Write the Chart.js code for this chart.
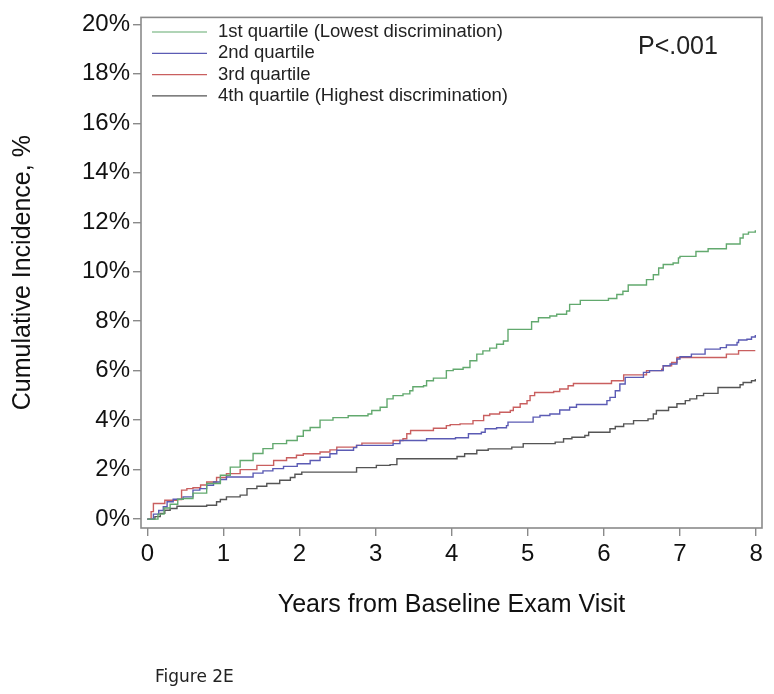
<!DOCTYPE html>
<html>
<head>
<meta charset="utf-8">
<title>Figure 2E</title>
<script src="https://cdn.jsdelivr.net/npm/chart.js@4.4.1/dist/chart.umd.min.js"></script>
<style>
  html, body { margin: 0; padding: 0; background: #fff; }
  #wrap { position: relative; width: 774px; height: 694px; }
  #fig { position: absolute; left: 155px; top: 666px; font: 17px 'DejaVu Sans', Verdana, sans-serif; line-height: 20px; color: #222; }
</style>
</head>
<body>
<div id="wrap">
  <canvas id="kmChart" width="774" height="694"></canvas>
  <div id="fig">Figure 2E</div>
</div>
<script>
// Series labels and colours
var seriesLabels = ['1st quartile (Lowest discrimination)', '2nd quartile', '3rd quartile', '4th quartile (Highest discrimination)'];
var seriesColors = ['#62a96e', '#5b5bb4', '#c95f5f', '#555555'];

// Tick values
var xTicks = [0, 1, 2, 3, 4, 5, 6, 7, 8];
var yTicks = [0, 2, 4, 6, 8, 10, 12, 14, 16, 18, 20];

// 1st quartile: event times (years) and cumulative incidence (%)
var q1Years = [0, 0.14, 0.22, 0.3, 0.4, 0.47, 0.6, 0.78, 0.96, 1.09, 1.22, 1.39, 1.52, 1.65, 1.83, 1.97, 2.05, 2.14, 2.27, 2.44, 2.64, 2.9, 2.95, 3.06, 3.15, 3.23, 3.36, 3.45, 3.49, 3.63, 3.67, 3.76, 3.93, 4.02, 4.15, 4.24, 4.33, 4.41, 4.5, 4.59, 4.68, 4.74, 5.05, 5.14, 5.29, 5.38, 5.51, 5.55, 5.69, 6.06, 6.17, 6.25, 6.32, 6.56, 6.65, 6.72, 6.78, 6.91, 6.98, 7.0, 7.21, 7.37, 7.61, 7.79, 7.83, 7.9, 7.99];
var q1Pct   = [0, 0.2, 0.45, 0.6, 0.8, 0.83, 1.05, 1.44, 1.77, 2.1, 2.37, 2.65, 2.85, 3.05, 3.18, 3.35, 3.58, 3.7, 4.0, 4.1, 4.18, 4.25, 4.39, 4.52, 4.86, 4.99, 5.06, 5.19, 5.35, 5.39, 5.59, 5.7, 6.0, 6.06, 6.13, 6.4, 6.67, 6.8, 6.91, 7.07, 7.2, 7.67, 7.98, 8.14, 8.21, 8.28, 8.41, 8.68, 8.84, 8.92, 9.08, 9.21, 9.46, 9.68, 9.88, 10.15, 10.29, 10.35, 10.56, 10.62, 10.82, 10.93, 11.12, 11.36, 11.52, 11.6, 11.68];

// 2nd quartile
var q2Years = [0, 0.08, 0.15, 0.21, 0.26, 0.34, 0.47, 0.6, 0.69, 0.78, 0.87, 0.96, 1.04, 1.39, 1.52, 1.65, 1.79, 1.97, 2.14, 2.27, 2.4, 2.49, 2.71, 2.75, 3.23, 3.32, 3.67, 4.05, 4.22, 4.39, 4.44, 4.59, 4.72, 4.74, 5.07, 5.16, 5.29, 5.42, 5.55, 5.64, 6.04, 6.08, 6.15, 6.21, 6.28, 6.52, 6.6, 6.78, 6.87, 6.96, 7.0, 7.15, 7.33, 7.53, 7.61, 7.75, 7.77, 7.88, 7.94, 7.99];
var q2Pct   = [0, 0.2, 0.35, 0.5, 0.7, 0.8, 0.9, 1.17, 1.23, 1.37, 1.5, 1.6, 1.7, 1.86, 1.95, 2.04, 2.13, 2.24, 2.37, 2.5, 2.64, 2.78, 2.89, 2.98, 3.05, 3.18, 3.25, 3.29, 3.45, 3.51, 3.65, 3.69, 3.78, 3.92, 4.12, 4.19, 4.25, 4.41, 4.52, 4.63, 4.79, 4.92, 5.19, 5.46, 5.73, 5.93, 6.0, 6.2, 6.27, 6.47, 6.56, 6.67, 6.87, 6.93, 7.04, 7.14, 7.24, 7.27, 7.36, 7.44];

// 3rd quartile
var q3Years = [0, 0.05, 0.08, 0.23, 0.39, 0.45, 0.52, 0.6, 0.7, 0.78, 0.91, 1.04, 1.22, 1.44, 1.66, 1.83, 1.96, 2.05, 2.27, 2.4, 2.49, 2.75, 2.82, 3.23, 3.36, 3.41, 3.46, 3.76, 3.93, 3.98, 4.11, 4.28, 4.42, 4.5, 4.63, 4.77, 4.81, 4.9, 4.99, 5.03, 5.09, 5.34, 5.42, 5.53, 5.6, 6.1, 6.26, 6.56, 6.76, 6.78, 6.89, 6.96, 7.61, 7.77, 7.99];
var q3Pct   = [0, 0.3, 0.63, 0.76, 0.79, 1.17, 1.23, 1.27, 1.38, 1.5, 1.68, 1.84, 2.0, 2.17, 2.37, 2.48, 2.58, 2.64, 2.71, 2.8, 2.91, 2.98, 3.07, 3.18, 3.25, 3.45, 3.58, 3.67, 3.78, 3.82, 3.85, 3.98, 4.19, 4.25, 4.32, 4.39, 4.52, 4.66, 4.79, 4.99, 5.12, 5.16, 5.26, 5.39, 5.48, 5.59, 5.83, 6.0, 6.06, 6.2, 6.33, 6.53, 6.67, 6.81, 6.81];

// 4th quartile
var q4Years = [0, 0.1, 0.17, 0.23, 0.3, 0.39, 0.78, 0.91, 0.96, 1.04, 1.22, 1.31, 1.44, 1.57, 1.74, 1.88, 1.94, 2.03, 2.75, 3.01, 3.19, 3.28, 4.07, 4.17, 4.33, 4.48, 4.79, 4.94, 5.36, 5.47, 5.58, 5.75, 5.8, 6.08, 6.15, 6.26, 6.39, 6.58, 6.65, 6.69, 6.85, 6.96, 7.07, 7.13, 7.22, 7.31, 7.5, 7.79, 7.83, 7.94, 7.99];
var q4Pct   = [0, 0.1, 0.23, 0.36, 0.43, 0.52, 0.56, 0.7, 0.79, 0.9, 0.97, 1.23, 1.33, 1.44, 1.57, 1.68, 1.81, 1.9, 2.08, 2.17, 2.2, 2.44, 2.53, 2.64, 2.78, 2.84, 2.91, 3.05, 3.11, 3.25, 3.31, 3.38, 3.51, 3.65, 3.74, 3.85, 3.98, 4.05, 4.25, 4.39, 4.52, 4.66, 4.79, 4.86, 4.99, 5.08, 5.32, 5.43, 5.52, 5.59, 5.66];

var pValueText = 'P<.001';

Chart.defaults.font.family = "'Liberation Sans', Arial, sans-serif";
Chart.defaults.color = '#222';

function toPoints(xs, ys) {
    return xs.map(function (x, i) { return { x: x, y: ys[i] }; });
}

function makeDataset(i, xs, ys) {
    return {
        label: seriesLabels[i],
        data: toPoints(xs, ys),
        borderColor: seriesColors[i],
        borderWidth: 1.4,
        pointRadius: 0,
        stepped: true,
        fill: false
    };
}

// frame around the plot, inside legend and p-value
var framePlugin = {
    id: 'frameAndLegend',
    afterDraw: function (chart) {
        var ctx = chart.ctx;
        var a = chart.chartArea;
        ctx.save();
        ctx.strokeStyle = '#8a8a8a';
        ctx.lineWidth = 1.6;
        ctx.strokeRect(a.left, a.top, a.right - a.left, a.bottom - a.top);

        ctx.font = "18.5px 'Liberation Sans', Arial, sans-serif";
        ctx.textBaseline = 'middle';
        ctx.textAlign = 'left';
        chart.data.datasets.forEach(function (ds, i) {
            var y = 32 + i * 21.3;
            ctx.strokeStyle = ds.borderColor;
            ctx.lineWidth = 1.2;
            ctx.beginPath();
            ctx.moveTo(152, y);
            ctx.lineTo(207, y);
            ctx.stroke();
            ctx.fillStyle = '#222';
            ctx.fillText(ds.label, 218, y);
        });

        ctx.font = "25px 'Liberation Sans', Arial, sans-serif";
        ctx.fillText(pValueText, 638, 47);
        ctx.restore();
    }
};

var ctx = document.getElementById('kmChart').getContext('2d');
new Chart(ctx, {
    type: 'line',
    data: {
        datasets: [
            makeDataset(0, q1Years, q1Pct),
            makeDataset(1, q2Years, q2Pct),
            makeDataset(2, q3Years, q3Pct),
            makeDataset(3, q4Years, q4Pct)
        ]
    },
    options: {
        responsive: false,
        animation: false,
        layout: { padding: { left: 0, top: 15, right: 12, bottom: 0 } },
        plugins: {
            legend: { display: false },
            tooltip: { enabled: false }
        },
        scales: {
            x: {
                type: 'linear',
                min: -0.083,
                max: 8.078,
                afterBuildTicks: function (scale) {
                    scale.ticks = xTicks.map(function (v) { return { value: v }; });
                },
                afterFit: function (scale) { scale.height = 166; },
                ticks: {
                    font: { size: 24 },
                    color: '#111',
                    padding: 4,
                    maxRotation: 0,
                    callback: function (v) { return String(v); }
                },
                grid: { drawOnChartArea: false, tickLength: 8, color: '#8a8a8a', lineWidth: 1.4 },
                border: { display: false },
                title: {
                    display: true,
                    text: 'Years from Baseline Exam Visit',
                    font: { size: 25 },
                    color: '#111',
                    padding: { top: 0, bottom: 74 }
                }
            },
            y: {
                min: -0.36,
                max: 20.28,
                afterBuildTicks: function (scale) {
                    scale.ticks = yTicks.map(function (v) { return { value: v }; });
                },
                afterFit: function (scale) { scale.width = 141; },
                ticks: {
                    font: { size: 24 },
                    color: '#111',
                    padding: 3,
                    callback: function (v) { return v + '%'; }
                },
                grid: { drawOnChartArea: false, tickLength: 8, color: '#8a8a8a', lineWidth: 1.4 },
                border: { display: false },
                title: {
                    display: true,
                    text: 'Cumulative Incidence, %',
                    font: { size: 25 },
                    color: '#111',
                    padding: { top: 8, bottom: 0 }
                }
            }
        }
    },
    plugins: [framePlugin]
});
</script>
</body>
</html>
